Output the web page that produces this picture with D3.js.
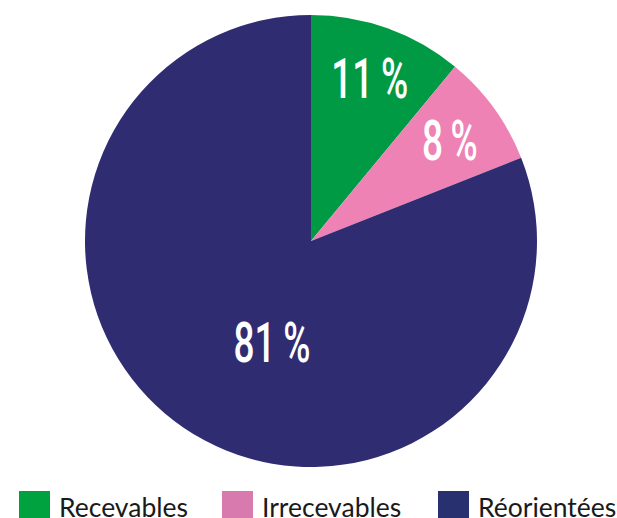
<!DOCTYPE html>
<html>
<head>
<meta charset="utf-8">
<script src="https://cdn.jsdelivr.net/npm/d3@7"></script>
<style>
  body { margin: 0; background: #fff; }
</style>
</head>
<body>
<script>
// categories and shares (percent)
var categories = ['Recevables', 'Irrecevables', 'Réorientées'];
var values = [11, 8, 81];
var sliceColors = ['#009a44', '#ee82b4', '#302c72'];
var legendColors = ['#00a23f', '#d97aae', '#283070'];

var width = 617,
    height = 518,
    cx = 311,
    cy = 241,
    radius = 226;

var svg = d3.select('body').append('svg')
  .attr('width', width)
  .attr('height', height);

var data = categories.map(function(c, i){ return {name: c, value: values[i], color: sliceColors[i]}; });

var pie = d3.pie().sort(null).value(function(d){ return d.value; });
var arc = d3.arc().innerRadius(0).outerRadius(radius);

var g = svg.append('g').attr('transform', 'translate(' + cx + ',' + cy + ')');
var arcs = pie(data);

g.selectAll('path').data(arcs).enter().append('path')
  .attr('d', arc)
  .attr('fill', function(d){ return d.data.color; });

// label placement: [fraction along slice angle, fraction of radius]
var labelPos = [[0.5, 0.767], [0.5, 0.759], [0.455, 0.48]];
g.selectAll('text').data(arcs).enter().append('text')
  .attr('transform', function(d, i){
    var a = d.startAngle + (d.endAngle - d.startAngle) * labelPos[i][0];
    var r = radius * labelPos[i][1];
    return 'translate(' + (Math.sin(a) * r) + ',' + (-Math.cos(a) * r) + ') scale(0.66,1)';
  })
  .attr('text-anchor', 'middle')
  .attr('dy', '0.355em')
  .attr('fill', '#fff')
  .style('font-family', 'Roboto, sans-serif')
  .style('font-weight', 500)
  .style('font-size', '56px')
  .text(function(d){ return d.data.value + '\u2009%'; });

// legend
var legendX = [19, 222, 438];
var legend = svg.selectAll('.legend').data(data).enter().append('g')
  .attr('class', 'legend')
  .attr('transform', function(d, i){ return 'translate(' + legendX[i] + ',491)'; });

legend.append('rect')
  .attr('width', 31)
  .attr('height', 31)
  .attr('fill', function(d, i){ return legendColors[i]; });

legend.append('text')
  .attr('x', 40)
  .attr('y', 26)
  .attr('fill', '#1a1a1a')
  .style('font-family', 'Lato, sans-serif')
  .style('font-size', '26.5px')
  .text(function(d){ return d.name; });
</script>
</body>
</html>
